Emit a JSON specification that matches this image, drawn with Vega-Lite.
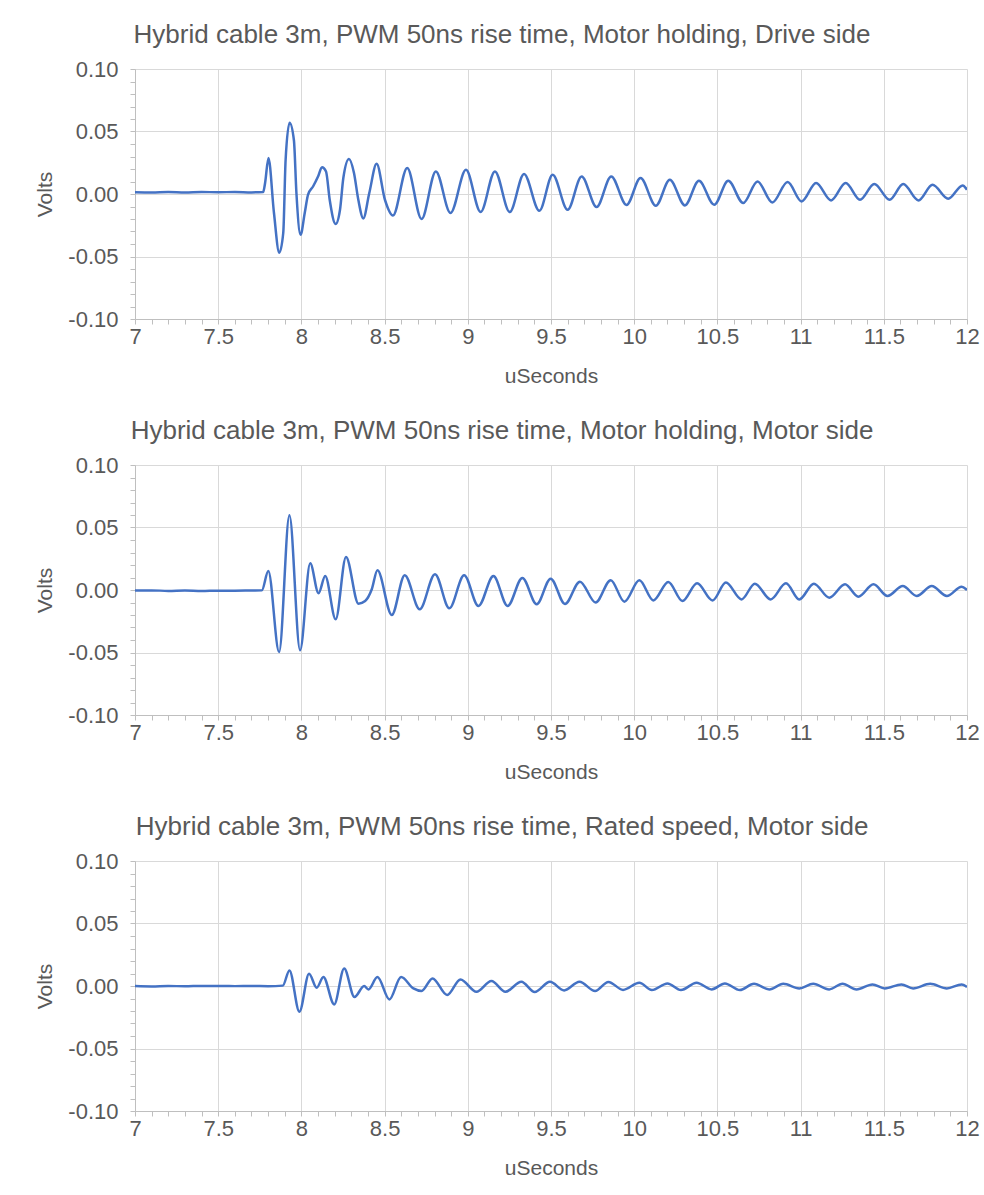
{
  "$schema": "https://vega.github.io/schema/vega-lite/v6.json",
  "background": "white",
  "padding": {"left": 34, "top": 22, "right": 10, "bottom": 5},
  "spacing": 32,
  "config": {
    "font": "Liberation Sans",
    "view": {"stroke": null},
    "title": {"fontSize": 26, "fontWeight": "normal", "color": "#595959", "anchor": "middle", "frame": "bounds", "offset": 10, "dx": -5, "font": "Liberation Sans"},
    "axis": {
      "labelFont": "Liberation Sans", "titleFont": "Liberation Sans",
      "labelFontSize": 22, "labelColor": "#595959",
      "titleFontSize": 21, "titleFontWeight": "normal", "titleColor": "#595959",
      "tickColor": "#bfbfbf", "domainColor": "#bfbfbf", "tickSize": 5, "tickWidth": 1,
      "labelOverlap": false, "labelFlush": false, "labelBound": false
    }
  },
  "datasets": {
    "a": [
      {"t":7.00,"v":0.0015},{"t":7.10,"v":0.0013},{"t":7.20,"v":0.0016},{"t":7.30,"v":0.0012},{"t":7.40,"v":0.0016},{"t":7.50,"v":0.0014},{"t":7.60,"v":0.0016},{"t":7.70,"v":0.0013},{"t":7.77,"v":0.0015},
      {"t":7.782,"v":0.009},{"t":7.802,"v":0.0288},{"t":7.835,"v":-0.015},{"t":7.867,"v":-0.047},{"t":7.891,"v":-0.031},{"t":7.905,"v":0.027},{"t":7.929,"v":0.057},{"t":7.955,"v":0.043},{"t":7.970,"v":0.001},{"t":7.995,"v":-0.0326},
      {"t":8.020,"v":-0.0152},{"t":8.040,"v":-0.0005},{"t":8.070,"v":0.006},{"t":8.100,"v":0.014},{"t":8.124,"v":0.0215},{"t":8.148,"v":0.018},{"t":8.170,"v":-0.0046},{"t":8.206,"v":-0.024},{"t":8.232,"v":-0.0126},{"t":8.252,"v":0.0128},{"t":8.286,"v":0.028},{"t":8.316,"v":0.0168},{"t":8.342,"v":-0.0046},{"t":8.372,"v":-0.0195},{"t":8.408,"v":0.0008},{"t":8.452,"v":0.0242},{"t":8.502,"v":-0.0046},{"t":8.550,"v":-0.0172},
      {"t":8.636,"v":0.0208},{"t":8.722,"v":-0.0200},{"t":8.808,"v":0.0181},{"t":8.896,"v":-0.0152},{"t":8.989,"v":0.0194},{"t":9.077,"v":-0.0144},{"t":9.163,"v":0.0181},{"t":9.252,"v":-0.0144},{"t":9.338,"v":0.0161},{"t":9.430,"v":-0.0134},{"t":9.510,"v":0.0154},{"t":9.600,"v":-0.0126},{"t":9.684,"v":0.0141},{"t":9.774,"v":-0.0104},{"t":9.862,"v":0.0141},{"t":9.954,"v":-0.0088},
      {"t":10.038,"v":0.0128},{"t":10.130,"v":-0.0094},{"t":10.214,"v":0.0114},{"t":10.305,"v":-0.0091},{"t":10.389,"v":0.0106},{"t":10.481,"v":-0.0086},{"t":10.565,"v":0.0106},{"t":10.655,"v":-0.0072},{"t":10.741,"v":0.0101},{"t":10.830,"v":-0.0067},{"t":10.922,"v":0.0096},
      {"t":11.006,"v":-0.0059},{"t":11.093,"v":0.0088},{"t":11.183,"v":-0.0051},{"t":11.271,"v":0.0088},{"t":11.357,"v":-0.0046},{"t":11.443,"v":0.0080},{"t":11.535,"v":-0.0046},{"t":11.617,"v":0.0080},{"t":11.708,"v":-0.0051},{"t":11.793,"v":0.0074},{"t":11.887,"v":-0.0038},{"t":11.974,"v":0.0069},{"t":12.000,"v":0.0034}
    ],
    "b": [
      {"t":7.00,"v":-0.0005},{"t":7.10,"v":-0.0003},{"t":7.20,"v":-0.0007},{"t":7.30,"v":-0.0004},{"t":7.40,"v":-0.0008},{"t":7.50,"v":-0.0005},{"t":7.60,"v":-0.0006},{"t":7.70,"v":-0.0004},{"t":7.762,"v":-0.0003},
      {"t":7.801,"v":0.0152},{"t":7.866,"v":-0.0496},{"t":7.928,"v":0.0598},{"t":7.992,"v":-0.0482},{"t":8.053,"v":0.0214},{"t":8.103,"v":-0.0026},{"t":8.143,"v":0.0112},{"t":8.206,"v":-0.0234},{"t":8.268,"v":0.0264},{"t":8.343,"v":-0.0109},{"t":8.383,"v":-0.0088},{"t":8.423,"v":0.0006},{"t":8.457,"v":0.0158},{"t":8.543,"v":-0.0200},
      {"t":8.621,"v":0.0118},{"t":8.711,"v":-0.0154},{"t":8.803,"v":0.0126},{"t":8.889,"v":-0.0146},{"t":8.978,"v":0.0118},{"t":9.064,"v":-0.0128},{"t":9.154,"v":0.0112},{"t":9.239,"v":-0.0128},{"t":9.328,"v":0.0096},{"t":9.414,"v":-0.0114},{"t":9.498,"v":0.0091},{"t":9.584,"v":-0.0112},{"t":9.674,"v":0.0067},{"t":9.768,"v":-0.0100},{"t":9.859,"v":0.0079},{"t":9.941,"v":-0.0093},
      {"t":10.031,"v":0.0078},{"t":10.115,"v":-0.0083},{"t":10.205,"v":0.0064},{"t":10.290,"v":-0.0088},{"t":10.378,"v":0.0054},{"t":10.471,"v":-0.0083},{"t":10.551,"v":0.0060},{"t":10.645,"v":-0.0075},{"t":10.725,"v":0.0051},{"t":10.820,"v":-0.0075},{"t":10.912,"v":0.0054},{"t":10.992,"v":-0.0075},
      {"t":11.080,"v":0.0051},{"t":11.172,"v":-0.0061},{"t":11.267,"v":0.0046},{"t":11.347,"v":-0.0053},{"t":11.438,"v":0.0046},{"t":11.522,"v":-0.0048},{"t":11.614,"v":0.0032},{"t":11.698,"v":-0.0048},{"t":11.788,"v":0.0032},{"t":11.879,"v":-0.0048},{"t":11.968,"v":0.0027},{"t":12.000,"v":0.0000}
    ],
    "c": [
      {"t":7.00,"v":0.0000},{"t":7.10,"v":-0.0003},{"t":7.20,"v":0.0000},{"t":7.30,"v":-0.0002},{"t":7.40,"v":0.0001},{"t":7.50,"v":0.0000},{"t":7.60,"v":-0.0001},{"t":7.70,"v":0.0001},{"t":7.80,"v":-0.0001},{"t":7.888,"v":0.0003},
      {"t":7.928,"v":0.0125},{"t":7.988,"v":-0.0206},{"t":8.046,"v":0.0098},{"t":8.092,"v":-0.0014},{"t":8.132,"v":0.0072},{"t":8.197,"v":-0.0147},{"t":8.257,"v":0.0141},{"t":8.319,"v":-0.0088},{"t":8.377,"v":0.0000},{"t":8.403,"v":-0.0027},{"t":8.457,"v":0.0072},{"t":8.529,"v":-0.0107},{"t":8.599,"v":0.0072},{"t":8.673,"v":-0.0019},{"t":8.722,"v":-0.0040},
      {"t":8.788,"v":0.0061},{"t":8.876,"v":-0.0072},{"t":8.956,"v":0.0053},{"t":9.052,"v":-0.0046},{"t":9.142,"v":0.0040},{"t":9.226,"v":-0.0046},{"t":9.322,"v":0.0034},{"t":9.402,"v":-0.0048},{"t":9.494,"v":0.0034},{"t":9.579,"v":-0.0035},{"t":9.671,"v":0.0034},{"t":9.765,"v":-0.0040},{"t":9.845,"v":0.0033},{"t":9.933,"v":-0.0031},
      {"t":10.031,"v":0.0026},{"t":10.106,"v":-0.0032},{"t":10.200,"v":0.0021},{"t":10.281,"v":-0.0032},{"t":10.375,"v":0.0026},{"t":10.465,"v":-0.0027},{"t":10.545,"v":0.0021},{"t":10.635,"v":-0.0032},{"t":10.720,"v":0.0018},{"t":10.812,"v":-0.0027},{"t":10.896,"v":0.0018},{"t":10.992,"v":-0.0019},
      {"t":11.076,"v":0.0018},{"t":11.172,"v":-0.0027},{"t":11.252,"v":0.0018},{"t":11.336,"v":-0.0027},{"t":11.432,"v":0.0013},{"t":11.506,"v":-0.0019},{"t":11.606,"v":0.0013},{"t":11.676,"v":-0.0019},{"t":11.779,"v":0.0018},{"t":11.879,"v":-0.0019},{"t":11.968,"v":0.0013},{"t":12.000,"v":-0.0008}
    ]
  },
  "vconcat": [
    {
      "title": {"text": "Hybrid cable 3m, PWM 50ns rise time, Motor holding, Drive side"},
      "width": 832, "height": 250,
      "data": {"name": "a"},
      "mark": {"type": "line", "color": "#4472C4", "strokeWidth": 2.5, "interpolate": "monotone", "clip": true},
      "encoding": {
        "x": {"field": "t", "type": "quantitative", "scale": {"domain": [7, 12], "nice": false, "zero": false},
          "axis": {"title": "uSeconds", "values": [7,7.1,7.2,7.3,7.4,7.5,7.6,7.7,7.8,7.9,8,8.1,8.2,8.3,8.4,8.5,8.6,8.7,8.8,8.9,9,9.1,9.2,9.3,9.4,9.5,9.6,9.7,9.8,9.9,10,10.1,10.2,10.3,10.4,10.5,10.6,10.7,10.8,10.9,11,11.1,11.2,11.3,11.4,11.5,11.6,11.7,11.8,11.9,12],
            "labelExpr": "abs(datum.value*2 - round(datum.value*2)) < 1e-6 ? toString(datum.value) : ''",
            "grid": true, "gridColor": {"condition": {"test": "abs(datum.value*2 - round(datum.value*2)) < 1e-6", "value": "#d9d9d9"}, "value": "rgba(0,0,0,0)"},
            "labelPadding": 2, "titlePadding": 18}},
        "y": {"field": "v", "type": "quantitative", "scale": {"domain": [-0.1, 0.1], "nice": false, "zero": false},
          "axis": {"title": "Volts", "values": [-0.1,-0.09,-0.08,-0.07,-0.06,-0.05,-0.04,-0.03,-0.02,-0.01,0,0.01,0.02,0.03,0.04,0.05,0.06,0.07,0.08,0.09,0.1],
            "labelExpr": "abs(datum.value*20 - round(datum.value*20)) < 1e-6 ? replace(format(datum.value, '.2f'), '\u2212', '-') : ''",
            "grid": true, "gridColor": {"condition": {"test": "abs(datum.value*20 - round(datum.value*20)) < 1e-6", "value": "#d9d9d9"}, "value": "rgba(0,0,0,0)"},
            "labelPadding": 12, "titlePadding": 12}}
      }
    },
    {
      "title": {"text": "Hybrid cable 3m, PWM 50ns rise time, Motor holding, Motor side"},
      "width": 832, "height": 250,
      "data": {"name": "b"},
      "mark": {"type": "line", "color": "#4472C4", "strokeWidth": 2.5, "interpolate": "monotone", "clip": true},
      "encoding": {
        "x": {"field": "t", "type": "quantitative", "scale": {"domain": [7, 12], "nice": false, "zero": false},
          "axis": {"title": "uSeconds", "values": [7,7.1,7.2,7.3,7.4,7.5,7.6,7.7,7.8,7.9,8,8.1,8.2,8.3,8.4,8.5,8.6,8.7,8.8,8.9,9,9.1,9.2,9.3,9.4,9.5,9.6,9.7,9.8,9.9,10,10.1,10.2,10.3,10.4,10.5,10.6,10.7,10.8,10.9,11,11.1,11.2,11.3,11.4,11.5,11.6,11.7,11.8,11.9,12],
            "labelExpr": "abs(datum.value*2 - round(datum.value*2)) < 1e-6 ? toString(datum.value) : ''",
            "grid": true, "gridColor": {"condition": {"test": "abs(datum.value*2 - round(datum.value*2)) < 1e-6", "value": "#d9d9d9"}, "value": "rgba(0,0,0,0)"},
            "labelPadding": 2, "titlePadding": 18}},
        "y": {"field": "v", "type": "quantitative", "scale": {"domain": [-0.1, 0.1], "nice": false, "zero": false},
          "axis": {"title": "Volts", "values": [-0.1,-0.09,-0.08,-0.07,-0.06,-0.05,-0.04,-0.03,-0.02,-0.01,0,0.01,0.02,0.03,0.04,0.05,0.06,0.07,0.08,0.09,0.1],
            "labelExpr": "abs(datum.value*20 - round(datum.value*20)) < 1e-6 ? replace(format(datum.value, '.2f'), '\u2212', '-') : ''",
            "grid": true, "gridColor": {"condition": {"test": "abs(datum.value*20 - round(datum.value*20)) < 1e-6", "value": "#d9d9d9"}, "value": "rgba(0,0,0,0)"},
            "labelPadding": 12, "titlePadding": 12}}
      }
    },
    {
      "title": {"text": "Hybrid cable 3m, PWM 50ns rise time, Rated speed, Motor side"},
      "width": 832, "height": 250,
      "data": {"name": "c"},
      "mark": {"type": "line", "color": "#4472C4", "strokeWidth": 2.5, "interpolate": "monotone", "clip": true},
      "encoding": {
        "x": {"field": "t", "type": "quantitative", "scale": {"domain": [7, 12], "nice": false, "zero": false},
          "axis": {"title": "uSeconds", "values": [7,7.1,7.2,7.3,7.4,7.5,7.6,7.7,7.8,7.9,8,8.1,8.2,8.3,8.4,8.5,8.6,8.7,8.8,8.9,9,9.1,9.2,9.3,9.4,9.5,9.6,9.7,9.8,9.9,10,10.1,10.2,10.3,10.4,10.5,10.6,10.7,10.8,10.9,11,11.1,11.2,11.3,11.4,11.5,11.6,11.7,11.8,11.9,12],
            "labelExpr": "abs(datum.value*2 - round(datum.value*2)) < 1e-6 ? toString(datum.value) : ''",
            "grid": true, "gridColor": {"condition": {"test": "abs(datum.value*2 - round(datum.value*2)) < 1e-6", "value": "#d9d9d9"}, "value": "rgba(0,0,0,0)"},
            "labelPadding": 2, "titlePadding": 18}},
        "y": {"field": "v", "type": "quantitative", "scale": {"domain": [-0.1, 0.1], "nice": false, "zero": false},
          "axis": {"title": "Volts", "values": [-0.1,-0.09,-0.08,-0.07,-0.06,-0.05,-0.04,-0.03,-0.02,-0.01,0,0.01,0.02,0.03,0.04,0.05,0.06,0.07,0.08,0.09,0.1],
            "labelExpr": "abs(datum.value*20 - round(datum.value*20)) < 1e-6 ? replace(format(datum.value, '.2f'), '\u2212', '-') : ''",
            "grid": true, "gridColor": {"condition": {"test": "abs(datum.value*20 - round(datum.value*20)) < 1e-6", "value": "#d9d9d9"}, "value": "rgba(0,0,0,0)"},
            "labelPadding": 12, "titlePadding": 12}}
      }
    }
  ]
}
